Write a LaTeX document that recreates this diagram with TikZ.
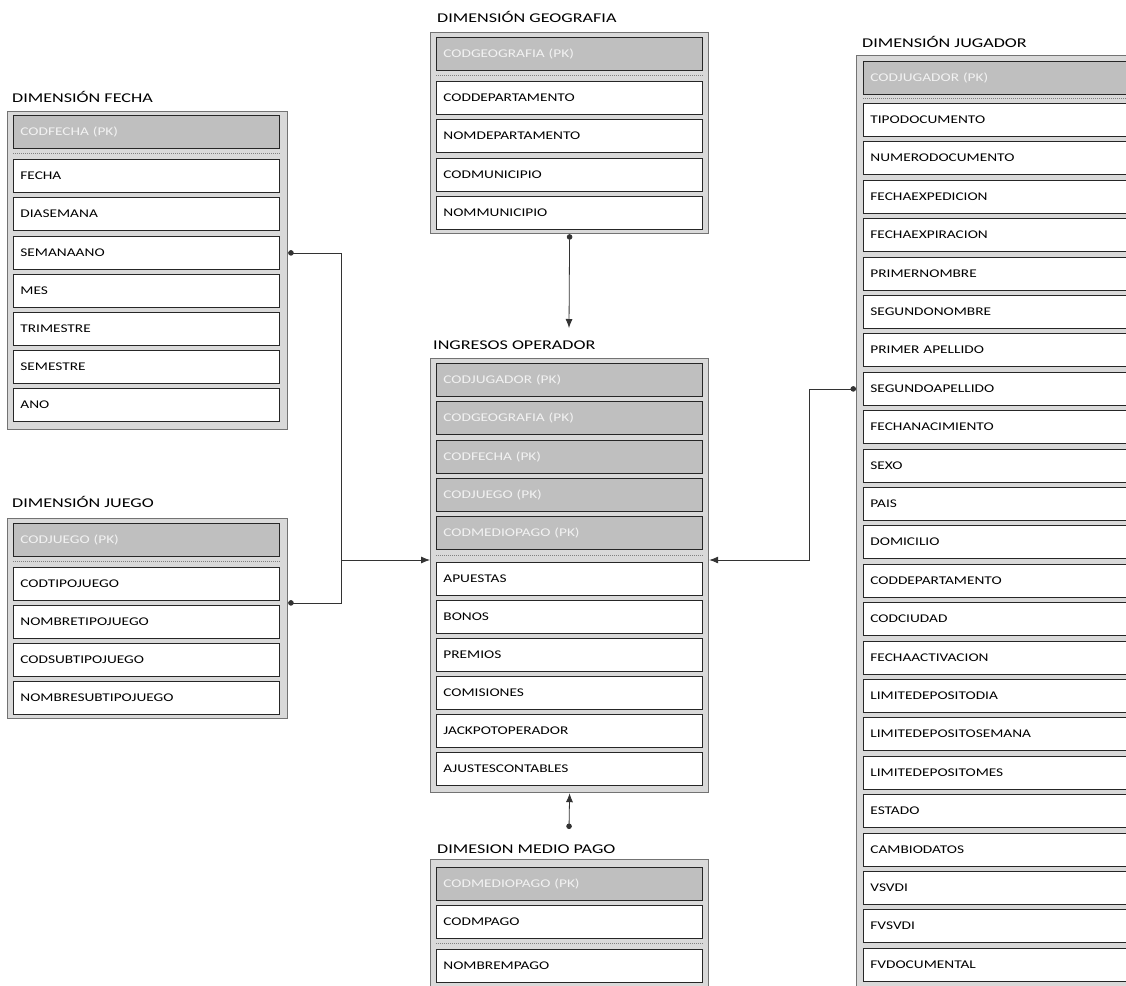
\documentclass[tikz,border=0pt]{standalone}
\usepackage{fontspec}
\usepackage{tikz}
\usetikzlibrary{calc,arrows.meta}
\newfontfamily\rowfont[FakeStretch=1.3]{Carlito}
\newfontfamily\titlefont[FakeStretch=1.35]{Carlito}
\definecolor{boxgray}{HTML}{D9D9D9}
\definecolor{pkgray}{HTML}{BFBFBF}
\definecolor{pktext}{HTML}{F2F2F2}
\tikzset{
	tbl/.style={draw=black!55, fill=boxgray, line width=1.2pt, anchor=north west, inner sep=0pt},
	row/.style={draw=black!85, fill=white, line width=0.8pt, anchor=north west, minimum height=33pt, text width=252pt, inner xsep=7pt, inner ysep=0pt, align=left, font=\rowfont\fontsize{11.8}{13}\selectfont},
	pk/.style={row, fill=pkgray, text=pktext},
	wide/.style={text width=276pt},
	ttl/.style={anchor=base west, inner sep=0pt, font=\titlefont\fontsize{13.4}{15}\selectfont},
	sep/.style={draw=black!50, line width=1pt, dash pattern=on 1pt off 1pt},
	link/.style={draw=black!80, line width=0.8pt},
	dot/.style={{Circle[length=5.5pt]}-},
	tip/.style={-{Latex[length=9pt,width=7pt]}},
	dottip/.style={{Circle[length=5.5pt]}-{Latex[length=9pt,width=7pt]}}
}

\begin{document}
\begin{tikzpicture}[x=1pt,y=-1pt]
			%%%%% START %%%%%
			\useasboundingbox (0,0) rectangle (1126,985);
			\clip (0,0) rectangle (1126,985);
			
			% dimension fecha
			\node[ttl] (lfecha) at (12,102) {DIMENSIÓN FECHA};
			\node[tbl, minimum width=280pt, minimum height=318pt] (tfecha) at (7,111) {};
			\node[pk] (fpk) at (13,115) {CODFECHA (PK)};
			\node[row] (ffecha) at (13,159) {FECHA};
			\node[row] (fdia) at (13,197) {DIASEMANA};
			\node[row] (fsem) at (13,236) {SEMANAANO};
			\node[row] (fmes) at (13,274) {MES};
			\node[row] (ftri) at (13,312) {TRIMESTRE};
			\node[row] (fseme) at (13,350) {SEMESTRE};
			\node[row] (fano) at (13,388) {ANO};
			\draw[sep] ($(fpk.south west)!0.5!(ffecha.north west)$) -- ($(fpk.south east)!0.5!(ffecha.north east)$);
			
			% dimension juego
			\node[ttl] (ljuego) at (12,507) {DIMENSIÓN JUEGO};
			\node[tbl, minimum width=280pt, minimum height=200pt] (tjuego) at (7,518) {};
			\node[pk] (jpk) at (13,523) {CODJUEGO (PK)};
			\node[row] (jctip) at (13,567) {CODTIPOJUEGO};
			\node[row] (jntip) at (13,605) {NOMBRETIPOJUEGO};
			\node[row] (jcsub) at (13,643) {CODSUBTIPOJUEGO};
			\node[row] (jnsub) at (13,681) {NOMBRESUBTIPOJUEGO};
			\draw[sep] ($(jpk.south west)!0.5!(jctip.north west)$) -- ($(jpk.south east)!0.5!(jctip.north east)$);
			
			% dimension geografia
			\node[ttl] (lgeo) at (437,22) {DIMENSIÓN GEOGRAFIA};
			\node[tbl, minimum width=278pt, minimum height=201pt] (tgeo) at (430,32) {};
			\node[pk] (gpk) at (436,37) {CODGEOGRAFIA (PK)};
			\node[row] (gcdep) at (436,81) {CODDEPARTAMENTO};
			\node[row] (gndep) at (436,119) {NOMDEPARTAMENTO};
			\node[row] (gcmun) at (436,158) {CODMUNICIPIO};
			\node[row] (gnmun) at (436,196) {NOMMUNICIPIO};
			\draw[sep] ($(gpk.south west)!0.5!(gcdep.north west)$) -- ($(gpk.south east)!0.5!(gcdep.north east)$);
			
			% ingresos operador
			\node[ttl] (lingresos) at (433,349) {INGRESOS OPERADOR};
			\node[tbl, minimum width=278pt, minimum height=434pt] (tingresos) at (430,358) {};
			\node[pk] (ipk1) at (436,363) {CODJUGADOR (PK)};
			\node[pk] (ipk2) at (436,401) {CODGEOGRAFIA (PK)};
			\node[pk] (ipk3) at (436,440) {CODFECHA (PK)};
			\node[pk] (ipk4) at (436,478) {CODJUEGO (PK)};
			\node[pk] (ipk5) at (436,516) {CODMEDIOPAGO (PK)};
			\node[row] (iapu) at (436,562) {APUESTAS};
			\node[row] (ibon) at (436,600) {BONOS};
			\node[row] (ipre) at (436,638) {PREMIOS};
			\node[row] (icom) at (436,676) {COMISIONES};
			\node[row] (ijac) at (436,714) {JACKPOTOPERADOR};
			\node[row] (iaju) at (436,752) {AJUSTESCONTABLES};
			\draw[sep] ($(ipk5.south west)!0.5!(iapu.north west)$) -- ($(ipk5.south east)!0.5!(iapu.north east)$);
			
			% dimension medio pago
			\node[ttl] (lmedio) at (437,853) {DIMESION MEDIO PAGO};
			\node[tbl, minimum width=278pt, minimum height=200pt] (tmedio) at (430,859) {};
			\node[pk] (mpk) at (436,867) {CODMEDIOPAGO (PK)};
			\node[row] (mcod) at (436,905) {CODMPAGO};
			\node[row] (mnom) at (436,949) {NOMBREMPAGO};
			\draw[sep] ($(mcod.south west)!0.5!(mnom.north west)$) -- ($(mcod.south east)!0.5!(mnom.north east)$);
			
			% dimension jugador
			\node[ttl] (ljugador) at (862,47) {DIMENSIÓN JUGADOR};
			\node[tbl, minimum width=320pt, minimum height=1000pt] (tjugador) at (856,55) {};
			\node[pk, wide] (upk) at (863,61) {CODJUGADOR (PK)};
			\node[row, wide] (utipo) at (863,103) {TIPODOCUMENTO};
			\node[row, wide] (unum) at (863,141) {NUMERODOCUMENTO};
			\node[row, wide] (ufexp) at (863,180) {FECHAEXPEDICION};
			\node[row, wide] (ufexpi) at (863,218) {FECHAEXPIRACION};
			\node[row, wide] (upnom) at (863,257) {PRIMERNOMBRE};
			\node[row, wide] (usnom) at (863,295) {SEGUNDONOMBRE};
			\node[row, wide] (upape) at (863,333) {PRIMER APELLIDO};
			\node[row, wide] (usape) at (863,372) {SEGUNDOAPELLIDO};
			\node[row, wide] (ufnac) at (863,410) {FECHANACIMIENTO};
			\node[row, wide] (usexo) at (863,449) {SEXO};
			\node[row, wide] (upais) at (863,487) {PAIS};
			\node[row, wide] (udom) at (863,525) {DOMICILIO};
			\node[row, wide] (ucdep) at (863,564) {CODDEPARTAMENTO};
			\node[row, wide] (uciu) at (863,602) {CODCIUDAD};
			\node[row, wide] (ufact) at (863,641) {FECHAACTIVACION};
			\node[row, wide] (uldia) at (863,679) {LIMITEDEPOSITODIA};
			\node[row, wide] (ulsem) at (863,717) {LIMITEDEPOSITOSEMANA};
			\node[row, wide] (ulmes) at (863,756) {LIMITEDEPOSITOMES};
			\node[row, wide] (uest) at (863,794) {ESTADO};
			\node[row, wide] (ucam) at (863,833) {CAMBIODATOS};
			\node[row, wide] (uvsv) at (863,871) {VSVDI};
			\node[row, wide] (ufvs) at (863,909) {FVSVDI};
			\node[row, wide] (ufvd) at (863,948) {FVDOCUMENTAL};
			\draw[sep] ($(upk.south west)!0.5!(utipo.north west)$) -- ($(upk.south east)!0.5!(utipo.north east)$);
			
			% connectors
			\coordinate (jl) at (341,560);
			\coordinate (jr) at (809,560);
			\coordinate (geoin) at (569,328);
			\coordinate (mpout) at (569,829);
			\draw[link, dot] (tfecha.east |- fsem) -| (jl);
			\draw[link, dot] ($(tjuego.east |- jctip.south)!0.5!(tjuego.east |- jntip.north)$) -| (jl);
			\draw[link, tip] (jl) -- (jl -| tingresos.west);
			\draw[link, dottip] (tjugador.west |- usape) -| (jr) -- (jr -| tingresos.east);
			\draw[link, dottip] (tgeo.south) -- (geoin);
			\draw[link, dottip] (mpout) -- (tingresos.south);
			
			%%%%% END %%%%%
		\end{tikzpicture}
\end{document}
